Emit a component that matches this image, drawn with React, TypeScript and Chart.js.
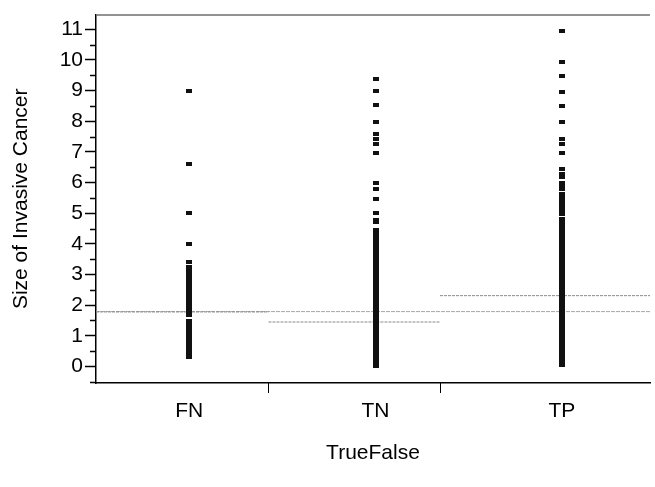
import React, { useEffect, useRef } from "react";
import { Chart, registerables } from "chart.js";

Chart.register(...registerables);

const categories = ["FN", "TN", "TP"];

const fnValues = [
  9.0, 6.6, 5.0, 4.0, 3.4, 3.25, 3.15, 3.05, 2.96, 2.82, 2.73, 2.64, 2.55, 2.45,
  2.35, 2.25, 2.15, 2.05, 1.95, 1.85, 1.75, 1.68, 1.48, 1.4, 1.3, 1.2, 1.1, 1.0,
  0.9, 0.8, 0.7, 0.6, 0.5, 0.4, 0.32,
];

const tnValues = [
  9.38, 8.98, 8.52, 7.99, 7.58, 7.42, 7.26, 6.97, 6.0, 5.8, 5.45, 5.0, 4.78, 4.7,
  4.45, 4.35, 4.25, 4.15, 4.05, 3.95, 3.85, 3.75, 3.65, 3.55, 3.45, 3.35, 3.25,
  3.15, 3.05, 2.95, 2.85, 2.75, 2.65, 2.55, 2.45, 2.35, 2.25, 2.15, 2.05, 1.95,
  1.85, 1.75, 1.65, 1.55, 1.45, 1.35, 1.25, 1.15, 1.05, 0.95, 0.85, 0.75, 0.65,
  0.55, 0.45, 0.35, 0.25, 0.15, 0.05, 0.0,
];

const tpValues = [
  10.95, 9.93, 9.48, 8.95, 8.49, 7.98, 7.42, 7.26, 6.96, 6.43, 6.27, 6.17, 5.99,
  5.9, 5.78, 5.62, 5.52, 5.42, 5.32, 5.22, 5.12, 5.02, 4.97, 4.8, 4.7, 4.6, 4.5,
  4.4, 4.3, 4.2, 4.1, 4.0, 3.9, 3.8, 3.7, 3.6, 3.5, 3.4, 3.3, 3.2, 3.1, 3.0, 2.9,
  2.8, 2.7, 2.6, 2.5, 2.4, 2.3, 2.2, 2.1, 2.0, 1.9, 1.8, 1.7, 1.6, 1.5, 1.4, 1.3,
  1.2, 1.1, 1.0, 0.9, 0.8, 0.7, 0.6, 0.5, 0.4, 0.3, 0.2, 0.1, 0.06,
];

const groupMeans = [1.78, 1.45, 2.31];
const grandMean = 1.79;
// extents of each group along the x scale (left edge, separators, right edge)
const groupEdges = [-0.5, 0.4255, 1.346, 2.473];

const yMajorTicks = [0, 1, 2, 3, 4, 5, 6, 7, 8, 9, 10, 11];
const yMinorTicks = [-0.5, 0.5, 1.5, 2.5, 3.5, 4.5, 5.5, 6.5, 7.5, 8.5, 9.5, 10.5];
const yMin = -0.54;
const yMax = 11.48;

const FONT = "'Liberation Sans', Arial, Helvetica, sans-serif";

export default function App() {
  const ref = useRef<HTMLCanvasElement | null>(null);

  useEffect(() => {
    const canvas = ref.current;
    if (!canvas) return;

    const marker = document.createElement("canvas");
    marker.width = 6;
    marker.height = 4;
    const mctx = marker.getContext("2d")!;
    mctx.fillStyle = "#111";
    mctx.fillRect(0, 0, 6, 4);

    const groups = [fnValues, tnValues, tpValues];

    const pointSets = groups.map((vals, gi) => ({
      label: categories[gi],
      data: vals.map((v) => ({ x: gi, y: v })),
      pointStyle: marker as any,
      pointRadius: 3,
      showLine: false,
      order: 1,
    }));

    const meanSets = groupMeans.map((m, gi) => ({
      label: categories[gi] + " mean",
      data: [
        { x: groupEdges[gi], y: m },
        { x: groupEdges[gi + 1], y: m },
      ],
      showLine: true,
      borderColor: "#8a8a8a",
      borderWidth: 1,
      borderDash: [3, 1],
      pointRadius: 0,
      order: 2,
    }));

    const grandSet = {
      label: "grand mean",
      data: [
        { x: groupEdges[0], y: grandMean },
        { x: groupEdges[3], y: grandMean },
      ],
      showLine: true,
      borderColor: "#a8a8a8",
      borderWidth: 1,
      borderDash: [4, 1],
      pointRadius: 0,
      order: 3,
    };

    const decor = {
      id: "decor",
      afterDraw(chart: any) {
        const { ctx, chartArea, scales } = chart;
        ctx.save();
        ctx.strokeStyle = "#000";
        ctx.lineWidth = 1.5;
        yMinorTicks.forEach((v) => {
          const py = Math.round(scales.y.getPixelForValue(v)) + 0.5;
          ctx.beginPath();
          ctx.moveTo(chartArea.left - 6, py);
          ctx.lineTo(chartArea.left, py);
          ctx.stroke();
        });
        ctx.lineWidth = 1;
        [groupEdges[1], groupEdges[2]].forEach((v) => {
          const px = Math.round(scales.x.getPixelForValue(v)) + 0.5;
          ctx.beginPath();
          ctx.moveTo(px, chartArea.bottom);
          ctx.lineTo(px, chartArea.bottom + 10);
          ctx.stroke();
        });
        ctx.strokeStyle = "#6e6e6e";
        ctx.lineWidth = 1.5;
        ctx.beginPath();
        ctx.moveTo(chartArea.left, chartArea.top + 0.5);
        ctx.lineTo(chartArea.right, chartArea.top + 0.5);
        ctx.stroke();
        ctx.restore();
      },
    };

    const chart = new Chart(canvas, {
      type: "scatter",
      data: { datasets: [...pointSets, ...meanSets, grandSet] as any },
      options: {
        responsive: false,
        animation: false,
        devicePixelRatio: 1,
        layout: { padding: { top: 8, left: 0, right: 0, bottom: 0 } },
        plugins: {
          legend: { display: false },
          tooltip: { enabled: false },
        },
        scales: {
          x: {
            type: "linear",
            min: groupEdges[0],
            max: groupEdges[3],
            afterBuildTicks: (scale: any) => {
              scale.ticks = categories.map((_, i) => ({ value: i }));
            },
            afterFit: (scale: any) => {
              scale.height = 104;
            },
            ticks: {
              autoSkip: false,
              maxRotation: 0,
              padding: 16,
              color: "#000",
              font: { family: FONT, size: 21 },
              callback: (v: any) => categories[v as number] ?? "",
            },
            grid: { display: true, drawOnChartArea: false, drawTicks: false },
            border: { display: true, color: "#000", width: 1.5 },
            title: {
              display: true,
              text: "TrueFalse",
              color: "#000",
              font: { family: FONT, size: 21 },
              padding: { top: 0, bottom: 21 },
            },
          },
          y: {
            type: "linear",
            min: yMin,
            max: yMax,
            afterBuildTicks: (scale: any) => {
              scale.ticks = yMajorTicks.map((v) => ({ value: v }));
            },
            afterFit: (scale: any) => {
              scale.width = 96;
            },
            ticks: {
              padding: 2,
              color: "#000",
              font: { family: FONT, size: 21 },
              callback: (v: any) => String(v),
            },
            grid: {
              display: true,
              drawOnChartArea: false,
              drawTicks: true,
              tickLength: 11,
              tickWidth: 1.5,
              tickColor: "#000",
            },
            border: { display: true, color: "#000", width: 1.5 },
            title: {
              display: true,
              text: "Size of Invasive Cancer",
              color: "#000",
              font: { family: FONT, size: 21 },
              padding: { top: 9, bottom: 0 },
            },
          },
        },
      },
      plugins: [decor],
    });

    return () => chart.destroy();
  }, []);

  return (
    <div style={{ position: "absolute", left: 0, top: 0, width: 655, height: 487, background: "#fff" }}>
      <canvas ref={ref} width={655} height={487} style={{ width: 655, height: 487, display: "block" }} />
    </div>
  );
}
